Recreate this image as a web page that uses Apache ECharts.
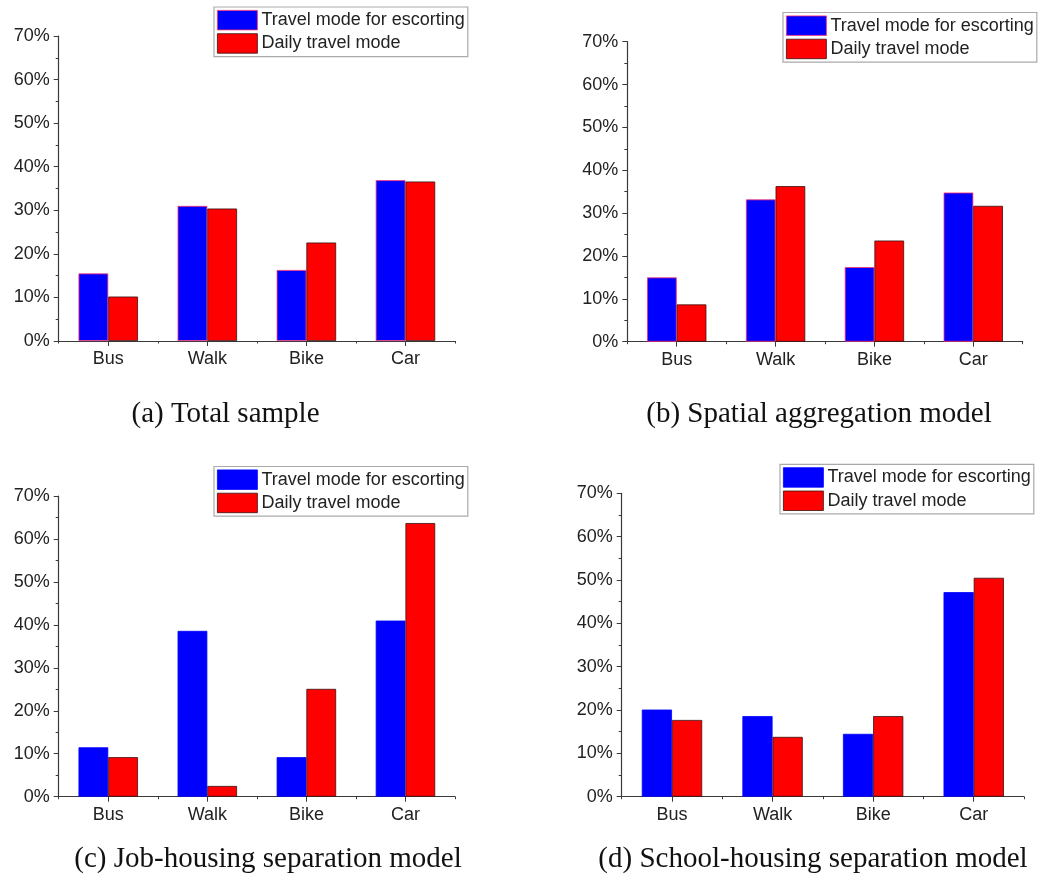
<!DOCTYPE html>
<html>
<head>
<meta charset="utf-8">
<script src="https://cdn.jsdelivr.net/npm/echarts@6/dist/echarts.min.js"></script>
<style>
html,body{margin:0;padding:0;background:#fff;}
#chart{width:1039px;height:876px;}
</style>
</head>
<body>
<div id="chart"></div>
<script>
const categories = ['Bus', 'Walk', 'Bike', 'Car'];
const seriesNames = ['Travel mode for escorting', 'Daily travel mode'];
const captions = ['(a) Total sample', '(b) Spatial aggregation model', '(c) Job-housing separation model', '(d) School-housing separation model'];

const escortA = [15.5, 31.0, 16.3, 36.9];
const dailyA  = [10.2, 30.4, 22.6, 36.6];
const escortB = [15.0, 33.2, 17.4, 34.8];
const dailyB  = [8.7, 36.3, 23.6, 31.7];
const escortC = [11.5, 38.6, 9.2, 41.0];
const dailyC  = [9.2, 2.5, 25.1, 63.7];
const escortD = [20.1, 18.6, 14.5, 47.2];
const dailyD  = [17.7, 13.8, 18.6, 50.5];

const yMin = 0, yMax = 70, yStep = 10;

const panels = [
  {escort: escortA, daily: dailyA, grid: {left: 58.7, top: 36, width: 396.3, height: 305}, legend: {left: 214, top: 7}, cap: [225.5, 414], blueBorder: '#ff3070'},
  {escort: escortB, daily: dailyB, grid: {left: 627.3, top: 41.7, width: 395.4, height: 300}, legend: {left: 783, top: 12.5}, cap: [819, 414], blueBorder: '#ff3070'},
  {escort: escortC, daily: dailyC, grid: {left: 58.7, top: 496, width: 396.3, height: 300.7}, legend: {left: 214, top: 466.5}, cap: [268, 859], blueBorder: '#0000ff'},
  {escort: escortD, daily: dailyD, grid: {left: 621.7, top: 493.3, width: 402.3, height: 303.4}, legend: {left: 780, top: 464.3}, cap: [813, 859], blueBorder: '#0000ff'}
];

const FONT = '"Liberation Sans", Arial, sans-serif';
const AX = '#3a3a3a';

const grid = [], xAxis = [], yAxis = [], series = [], legend = [], graphic = [];
panels.forEach((p, i) => {
  grid.push(Object.assign({containLabel: false}, p.grid));
  xAxis.push({
    type: 'category', gridIndex: i, data: categories,
    axisLine: {lineStyle: {color: AX, width: 1.2}},
    axisTick: {show: true, alignWithLabel: true, length: 5, lineStyle: {color: AX}},
    axisLabel: {color: '#222', fontSize: 18, fontFamily: FONT, margin: 9}
  });
  xAxis.push({
    type: 'category', gridIndex: i, data: categories, position: 'bottom',
    axisLine: {show: false},
    axisTick: {show: true, alignWithLabel: false, length: 2.5, lineStyle: {color: AX}},
    axisLabel: {show: false}
  });
  yAxis.push({
    type: 'value', gridIndex: i, min: yMin, max: yMax, interval: yStep,
    axisLine: {show: true, lineStyle: {color: AX, width: 1.2}},
    axisTick: {show: true, length: 5, lineStyle: {color: AX}},
    minorTick: {show: true, splitNumber: 2, length: 3, lineStyle: {color: AX}},
    splitLine: {show: false},
    axisLabel: {color: '#222', fontSize: 18, fontFamily: FONT, margin: 9, formatter: '{value}%'}
  });
  const blueStyle = {color: '#0000ff', borderColor: p.blueBorder, borderWidth: 0.8};
  const redStyle = {color: '#ff0000', borderColor: '#3a1010', borderWidth: 0.8};
  series.push({
    type: 'bar', name: seriesNames[0], xAxisIndex: 2 * i, yAxisIndex: i,
    data: p.escort, barGap: '0%', barCategoryGap: '40%', itemStyle: blueStyle
  });
  series.push({
    type: 'bar', name: seriesNames[1], xAxisIndex: 2 * i, yAxisIndex: i,
    data: p.daily, barGap: '0%', barCategoryGap: '40%', itemStyle: redStyle
  });
  legend.push({
    left: p.legend.left, top: p.legend.top, orient: 'vertical',
    padding: [3, 3, 3, 3], itemGap: 3, itemWidth: 40, itemHeight: 19.5,
    backgroundColor: '#fff', borderColor: '#aaa', borderWidth: 1.2, borderRadius: 0,
    icon: 'rect', selectedMode: false,
    textStyle: {color: '#222', fontSize: 18, fontFamily: FONT, padding: [0, 0, 0, -1]},
    data: [
      {name: seriesNames[0], itemStyle: blueStyle},
      {name: seriesNames[1], itemStyle: redStyle}
    ]
  });
  graphic.push({
    type: 'text', x: p.cap[0], y: p.cap[1],
    style: {text: captions[i], fill: '#111', font: '29px "Liberation Serif", "Times New Roman", serif', textAlign: 'center', textVerticalAlign: 'middle'}
  });
});

const chart = echarts.init(document.getElementById('chart'), null, {renderer: 'canvas'});
chart.setOption({
  backgroundColor: '#ffffff',
  animation: false,
  grid, xAxis, yAxis, series, legend, graphic
});
</script>
</body>
</html>
